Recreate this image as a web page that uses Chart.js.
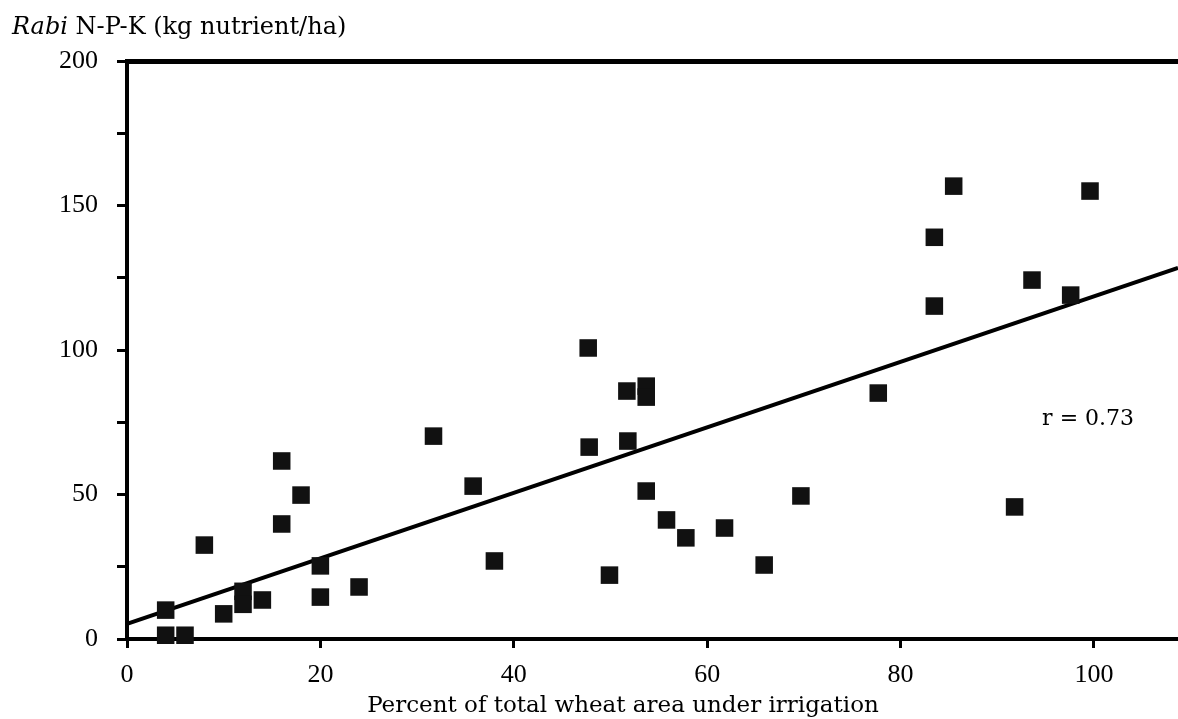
<!DOCTYPE html>
<html>
<head>
<meta charset="utf-8">
<title>Rabi N-P-K vs irrigated wheat area</title>
<script src="https://cdn.jsdelivr.net/npm/chart.js@4.4.1/dist/chart.umd.min.js"></script>
<style>
  html, body { margin:0; padding:0; background:#fff; }
  #wrap { width:1178px; height:719px; position:relative; }
</style>
</head>
<body>
<div id="wrap"><canvas id="npkChart"></canvas></div>
<script>
// data (x = % wheat area irrigated, y = kg nutrient/ha)
const irrigPct = [4, 4, 6, 8, 10, 12, 12, 14, 16, 16, 18, 20, 20, 24, 31.7, 35.8, 38,
  47.7, 47.8, 49.9, 51.7, 51.8, 53.7, 53.7, 53.7, 55.8, 57.8, 61.8, 65.9, 69.7,
  77.7, 83.5, 83.5, 85.5, 91.8, 93.6, 97.6, 99.6];
const npkKg = [10, 1.3, 1.3, 32.5, 8.7, 16.5, 12, 13.5, 61.6, 39.8, 49.8, 25.3, 14.5, 18, 70.2, 52.9, 27,
  100.7, 66.4, 22.1, 85.8, 68.5, 87.5, 83.7, 51.2, 41.2, 35, 38.4, 25.6, 49.5,
  85.1, 139, 115.2, 156.7, 45.7, 124.2, 119, 155];

// fitted regression line end points
const fitX = [0, 108.7];
const fitY = [5.2, 128.4];

const xTicks = [0, 20, 40, 60, 80, 100];
const yLabelStep = 50;
const rText = 'r = 0.73';
const rLabelX = 99.4, rLabelY = 76;

const serif = '"Liberation Serif", "DejaVu Serif", serif';
const wideSerif = '"DejaVu Serif", "Liberation Serif", serif';

const textPlugin = {
  id: 'textPlugin',
  afterDraw(chart){
    const c = chart.ctx;
    c.save();
    c.fillStyle = '#000';
    c.textBaseline = 'alphabetic';
    // y axis title, top-left
    c.font = 'italic 24px ' + wideSerif;
    c.textAlign = 'left';
    c.fillText('Rabi', 12, 34);
    const w = c.measureText('Rabi ').width;
    c.font = '24px ' + wideSerif;
    c.fillText('N-P-K (kg nutrient/ha)', 12 + w, 34);
    // x axis title
    c.font = '23px ' + wideSerif;
    c.textAlign = 'center';
    c.fillText('Percent of total wheat area under irrigation', 623, 712);
    // correlation note
    const xs = chart.scales.x, ys = chart.scales.y;
    c.font = '22px ' + wideSerif;
    c.textBaseline = 'middle';
    c.fillText(rText, xs.getPixelForValue(rLabelX), ys.getPixelForValue(rLabelY));
    c.restore();
  }
};

const ctx = document.getElementById('npkChart').getContext('2d');
const chart = new Chart(ctx, {
  type: 'scatter',
  data: {
    datasets: [
      {
        label: 'districts',
        data: irrigPct.map((x, i) => ({ x: x, y: npkKg[i] })),
        pointStyle: 'rect',
        pointRadius: 12.4,
        pointHoverRadius: 12.4,
        backgroundColor: '#111',
        borderWidth: 0,
        clip: false,
        order: 1
      },
      {
        label: 'fit',
        type: 'line',
        data: fitX.map((x, i) => ({ x: x, y: fitY[i] })),
        borderColor: '#000',
        borderWidth: 4,
        pointRadius: 0,
        fill: false,
        order: 2
      }
    ]
  },
  options: {
    responsive: true,
    maintainAspectRatio: false,
    animation: false,
    layout: { padding: { top: 61, left: 0, right: 0, bottom: 0 }, autoPadding: false },
    plugins: { legend: { display: false }, tooltip: { enabled: false } },
    scales: {
      x: {
        type: 'linear',
        position: 'bottom',
        min: 0, max: 108.7,
        afterFit(s){ s.height = 80; },
        afterBuildTicks(s){ s.ticks = xTicks.map(v => ({ value: v })); },
        ticks: { color: '#000', font: { family: serif, size: 26 }, padding: 12, maxRotation: 0 },
        grid: { drawOnChartArea: false, drawTicks: true, tickLength: 9, tickWidth: 3, tickColor: '#000' },
        border: { display: true, color: '#000', width: 4 }
      },
      xTop: {
        type: 'linear',
        position: 'top',
        min: 0, max: 108.7,
        afterFit(s){ s.height = 0; },
        ticks: { display: false },
        grid: { drawOnChartArea: false, drawTicks: false },
        border: { display: true, color: '#000', width: 5 }
      },
      y: {
        type: 'linear',
        position: 'left',
        min: 0, max: 200,
        afterFit(s){ s.width = 127; },
        ticks: {
          stepSize: 25,
          color: '#000',
          font: { family: serif, size: 26 },
          padding: 19,
          callback: v => (v % yLabelStep === 0 ? String(v) : '')
        },
        grid: { drawOnChartArea: false, drawTicks: true, tickLength: 10, tickWidth: 3, tickColor: '#000' },
        border: { display: true, color: '#000', width: 4 }
      }
    }
  },
  plugins: [textPlugin]
});
</script>
</body>
</html>
